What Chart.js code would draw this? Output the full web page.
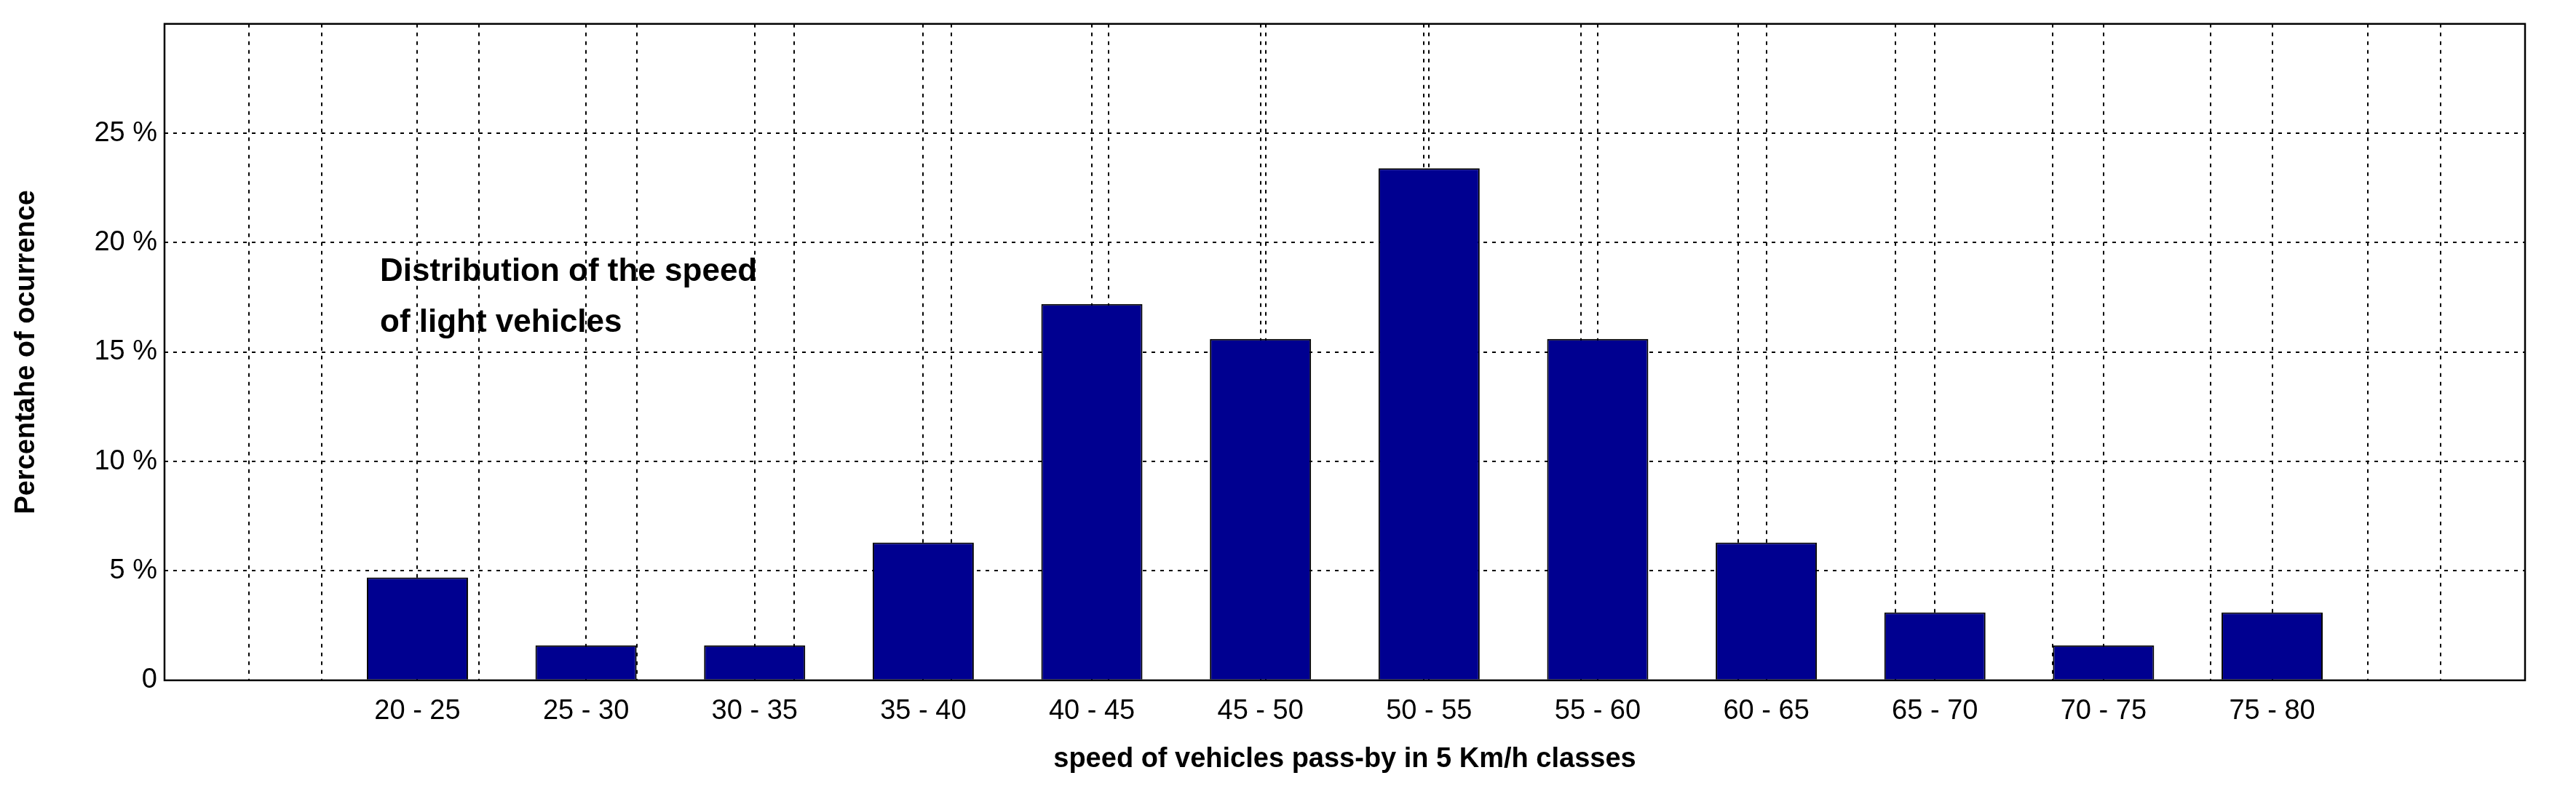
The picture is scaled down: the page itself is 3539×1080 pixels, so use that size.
<!DOCTYPE html>
<html>
<head>
<meta charset="utf-8">
<script src="https://cdn.jsdelivr.net/npm/chart.js@4/dist/chart.umd.min.js"></script>
<style>
  html, body { margin: 0; padding: 0; background: #fff; }
  #wrap { width: 3539px; height: 1080px; }
</style>
</head>
<body>
<div id="wrap"><canvas id="chart" width="3539" height="1080"></canvas></div>
<script>
// speed classes (first and last slots are empty on the original)
const classes = ["", "20 - 25", "25 - 30", "30 - 35", "35 - 40", "40 - 45", "45 - 50", "50 - 55",
                 "55 - 60", "60 - 65", "65 - 70", "70 - 75", "75 - 80", ""];
const share = [null, 4.7, 1.6, 1.6, 6.3, 17.2, 15.6, 23.4, 15.6, 6.3, 3.1, 1.6, 3.1, null];
const yTicks = [0, 5, 10, 15, 20, 25];
const noteLines = ["Distribution of the speed", "of light vehicles"];

const FONT = "'Liberation Sans', Arial, sans-serif";

// frame box + annotation text
const framePlugin = {
  id: "frame",
  afterDraw(chart) {
    const { ctx, chartArea: a } = chart;
    ctx.save();
    ctx.strokeStyle = "#000";
    ctx.lineWidth = 2.5;
    ctx.strokeRect(a.left, a.top, a.right - a.left, a.bottom - a.top);
    ctx.fillStyle = "#000";
    ctx.font = "bold 44px " + FONT;
    ctx.textBaseline = "middle";
    noteLines.forEach((t, i) => ctx.fillText(t, 522, 374 + i * 70));
    ctx.restore();
  }
};

const dashedGrid = { color: "#000", lineWidth: 2, drawTicks: false };
const dashedBorder = { display: false, dash: [5, 7] };

const ctx = document.getElementById("chart").getContext("2d");
const chart = new Chart(ctx, {
  type: "bar",
  data: {
    labels: classes,
    datasets: [{
      data: share,
      backgroundColor: "#000090",
      borderColor: "#000",
      borderWidth: 2,
      categoryPercentage: 1,
      barPercentage: 0.6
    }]
  },
  options: {
    responsive: false,
    animation: false,
    layout: { padding: { left: 10, right: 70, top: 32, bottom: 10 } },
    plugins: { legend: { display: false }, tooltip: { enabled: false } },
    scales: {
      x: {
        offset: true,
        grid: { ...dashedGrid, offset: false },
        border: dashedBorder,
        ticks: { color: "#000", font: { family: FONT, size: 38 }, padding: 20, maxRotation: 0, autoSkip: false },
        title: { display: true, text: "speed of vehicles pass-by in 5 Km/h classes", color: "#000",
                 font: { family: FONT, size: 38, weight: "bold" }, padding: { top: 0 } }
      },
      x2: {
        type: "linear", position: "bottom", min: 0, max: classes.length,
        afterBuildTicks(s) { s.ticks = classes.concat([""]).map((_, i) => ({ value: i })); },
        afterFit(s) { s.height = 0; },
        grid: dashedGrid,
        border: dashedBorder,
        ticks: { display: false }
      },
      y: {
        min: 0, max: 30,
        afterBuildTicks(s) { s.ticks = yTicks.map(v => ({ value: v })); },
        afterFit(s) { s.width = 216; },
        grid: dashedGrid,
        border: dashedBorder,
        ticks: { color: "#000", font: { family: FONT, size: 38 }, padding: 10,
                 callback: v => v === 0 ? "0" : v + " %" },
        title: { display: true, text: "Percentahe of ocurrence", color: "#000",
                 font: { family: FONT, size: 38, weight: "bold" }, padding: { bottom: 6 } }
      }
    }
  },
  plugins: [framePlugin]
});
</script>
</body>
</html>
